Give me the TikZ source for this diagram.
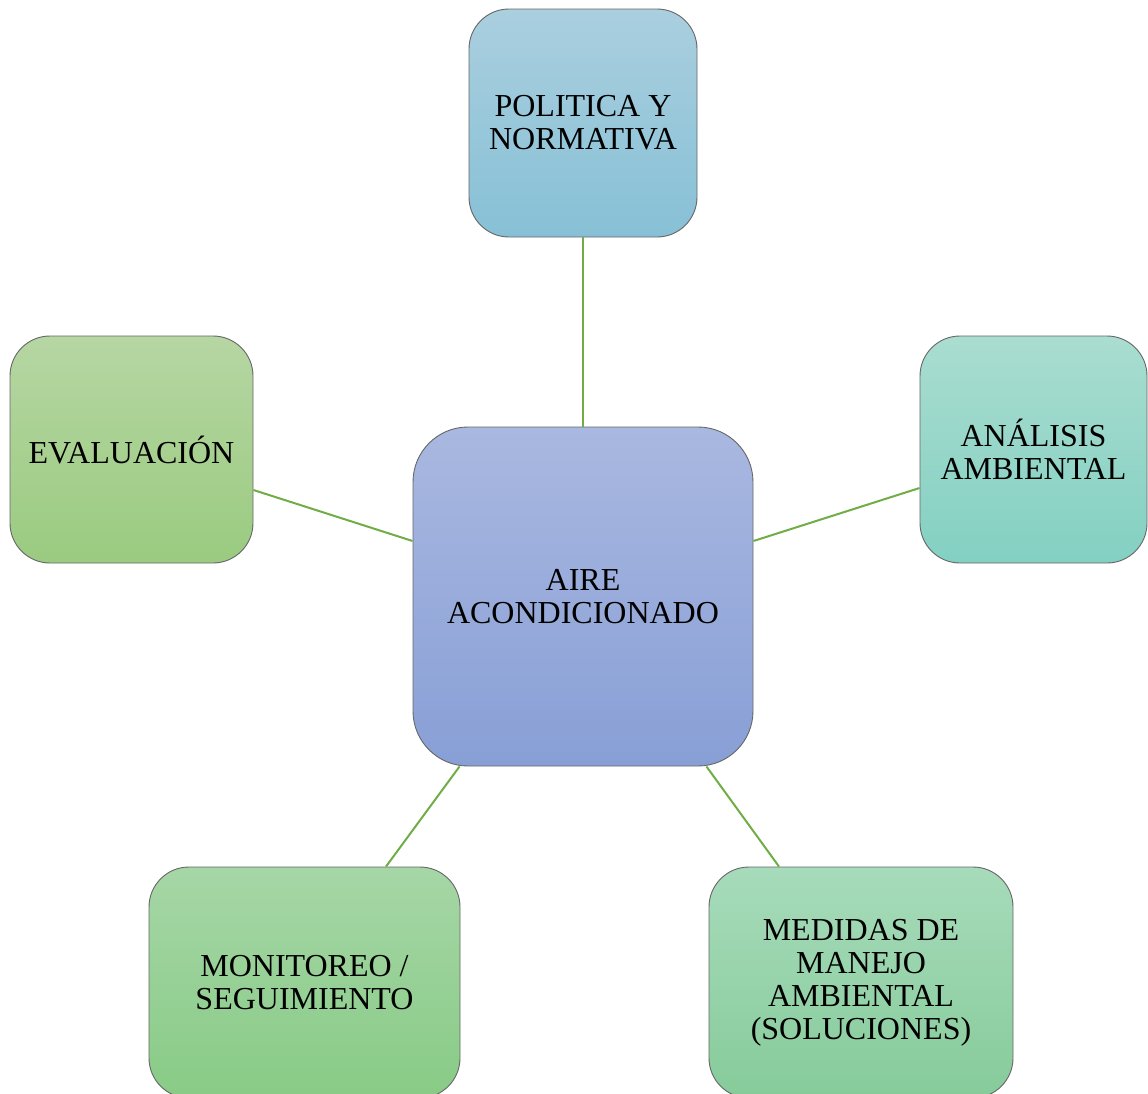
\documentclass[tikz,border=0pt]{standalone}
\usepackage{fontspec}
\setmainfont{Liberation Serif}
\begin{document}
\begin{tikzpicture}[x=1pt,y=-1pt,
  box/.style={draw=black!60, line width=0.9pt, rounded corners=#1, inner sep=0pt,
     align=center, font=\fontsize{32}{33}\selectfont, text=black},
  box/.default=40pt,
  link/.style={draw=lnk, line width=2pt}]
\definecolor{lnk}{HTML}{70AD47}
\useasboundingbox (0,0) rectangle (1148,1093);
\begin{scope}
\clip (0,0) rectangle (1148,1093);
\node[box, minimum width=228pt, minimum height=228pt, top color={rgb,255:red,170;green,207;blue,223}, bottom color={rgb,255:red,135;green,192;blue,214}] (pol) at (583,123) {POLITICA Y\\NORMATIVA};
\node[box, minimum width=243pt, minimum height=227pt, top color={rgb,255:red,182;green,214;blue,163}, bottom color={rgb,255:red,154;green,203;blue,128}] (eva) at (131.5,449.5) {EVALUACIÓN};
\node[box, minimum width=227pt, minimum height=227pt, top color={rgb,255:red,169;green,221;blue,208}, bottom color={rgb,255:red,131;green,208;blue,194}] (ana) at (1033.5,449.5) {ANÁLISIS\\AMBIENTAL};
\node[box=55pt, minimum width=340pt, minimum height=339pt, top color={rgb,255:red,169;green,184;blue,224}, bottom color={rgb,255:red,136;green,159;blue,214}] (aire) at (583,596.5) {AIRE\\ACONDICIONADO};
\node[box, minimum width=311pt, minimum height=231pt, top color={rgb,255:red,166;green,214;blue,166}, bottom color={rgb,255:red,136;green,203;blue,134}] (mon) at (304.5,982.5) {MONITOREO /\\SEGUIMIENTO};
\node[box, minimum width=304pt, minimum height=231pt, top color={rgb,255:red,167;green,219;blue,187}, bottom color={rgb,255:red,134;green,203;blue,154}] (med) at (861,982.5) {MEDIDAS DE\\MANEJO\\AMBIENTAL\\(SOLUCIONES)};
\end{scope}
\draw[link] (pol.south) -- (aire.north);
\draw[link] (eva.east |- 0,490) -- (aire.west |- 0,541);
\draw[link] (ana.west |- 0,488) -- (aire.east |- 0,541);
\draw[link] (aire.south west) ++(47,0) coordinate (m1) -- (mon.north west -| 386,0);
\draw[link] (aire.south east) ++(-47,0) coordinate (m2) -- (med.north west -| 779,0);
\end{tikzpicture}
\end{document}
